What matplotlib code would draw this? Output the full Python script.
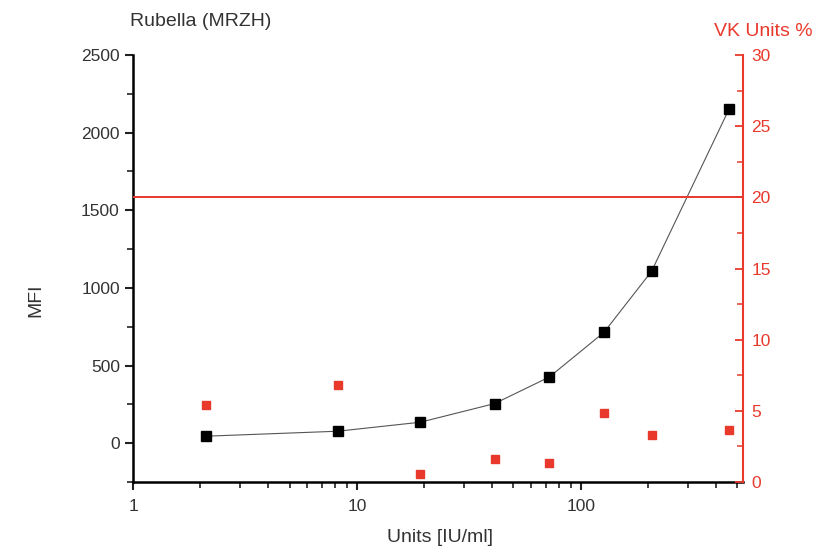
import matplotlib
matplotlib.use("Agg")
import matplotlib.pyplot as plt
from matplotlib.ticker import MultipleLocator, LogLocator, FixedLocator

plt.rcParams['font.family'] = ['Liberation Sans', 'DejaVu Sans']

units = [2.12, 8.2, 19.2, 41.2, 72.3, 126.7, 207, 459]
mfi = [45, 77, 135, 255, 426, 713, 1107, 2151]
vk_pct = [5.39, 6.80, 0.56, 1.64, 1.34, 4.85, 3.30, 3.65]
cutoff = 20

title = "Rubella (MRZH)"
xlabel = "Units [IU/ml]"
ylabel = "MFI"
y2label = "VK Units %"

RED = '#e8392c'
TXT = '#333333'

fig = plt.figure(figsize=(8.22, 5.51), dpi=100)
ax = fig.add_axes([133/822, 1-482/551, (743-133)/822, (482-55)/551])
ax2 = ax.twinx()

ax.plot(units, mfi, color='#555555', lw=0.8, marker='s', ms=7,
        mfc='black', mec='black', zorder=3)
ax2.plot(units, vk_pct, ls='none', marker='s', ms=5.8, mfc=RED, mec=RED, zorder=3)
ax2.axhline(cutoff, color=RED, lw=1.4)

ax.set_xscale('log')
ax.set_xlim(1, 530)
ax.set_ylim(-250, 2500)
ax2.set_ylim(0, 30)

ax.set_xticks([1, 10, 100])
ax.set_xticklabels(['1', '10', '100'])
ax.xaxis.set_minor_locator(LogLocator(base=10, subs=range(2, 10)))
ax.xaxis.set_minor_formatter(plt.NullFormatter())
ax.yaxis.set_major_locator(FixedLocator([0, 500, 1000, 1500, 2000, 2500]))
ax.yaxis.set_minor_locator(MultipleLocator(250))
ax2.yaxis.set_major_locator(MultipleLocator(5))
ax2.yaxis.set_minor_locator(MultipleLocator(2.5))

ax.spines['top'].set_visible(False)
ax2.spines['top'].set_visible(False)
ax.spines['right'].set_visible(False)
ax2.spines['left'].set_visible(False)
ax2.spines['bottom'].set_visible(False)
ax.spines['left'].set_linewidth(1.8)
ax.spines['bottom'].set_linewidth(1.8)
ax2.spines['right'].set_linewidth(1.5)
ax2.spines['right'].set_color(RED)

ax.tick_params(axis='both', which='major', direction='out', length=6, width=1.5,
               labelsize=12.5, labelcolor=TXT, color='#222222')
ax.tick_params(axis='both', which='minor', direction='out', length=4, width=1.2,
               color='#222222')
ax.tick_params(axis='x', pad=6)
ax2.tick_params(axis='y', which='major', direction='in', length=6, width=1.3,
                labelsize=12.5, labelcolor=RED, color=RED, pad=6)
ax2.tick_params(axis='y', which='minor', direction='in', length=4, width=1.1, color=RED)

ax.set_xlabel(xlabel, fontsize=14, color=TXT)
ax.xaxis.set_label_coords((440-133)/610, -(537-482)/427)
ax.set_ylabel(ylabel, fontsize=14, color=TXT)
ax.yaxis.set_label_coords(-(133-36)/610, (482-300)/427)
ax.xaxis.label.set_va('center')
ax.yaxis.label.set_va('center')

fig.text(201/822, 1-22/551, title, fontsize=14, color=TXT, ha='center', va='center')
fig.text(763/822, 1-31/551, y2label, fontsize=14, color=RED, ha='center', va='center')

fig.savefig('out.png', dpi=100)
